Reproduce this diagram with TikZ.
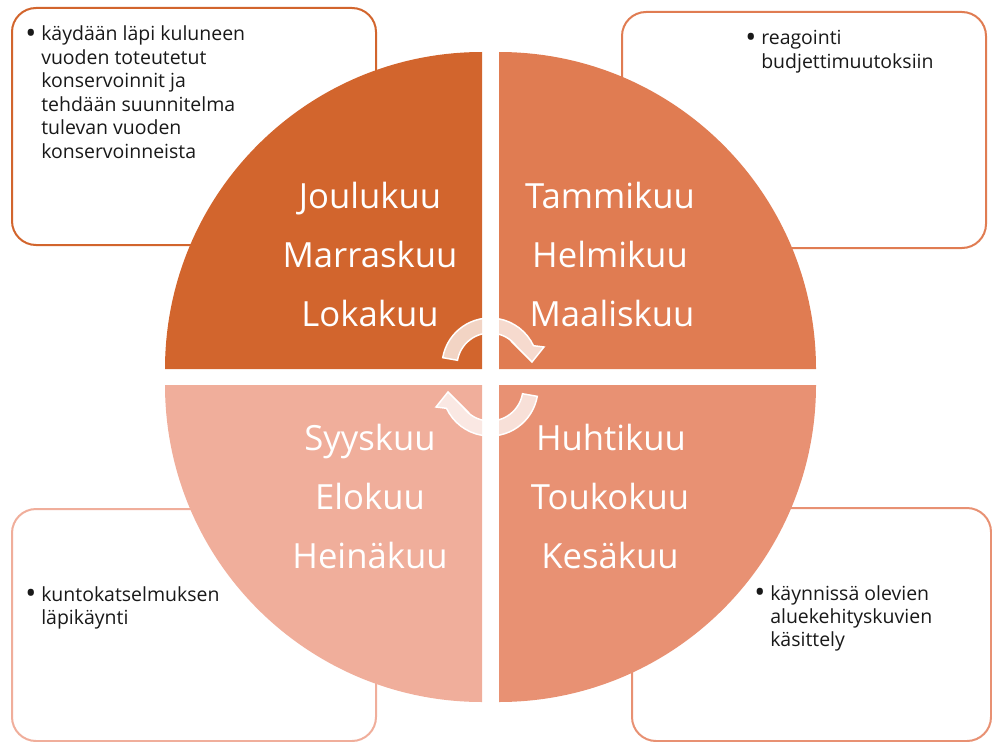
\documentclass[tikz,border=0pt]{standalone}
\usepackage{fontspec}
\setmainfont{Open Sans}
\definecolor{qTL}{RGB}{210,101,45}
\definecolor{qTR}{RGB}{224,124,82}
\definecolor{qBR}{RGB}{232,145,115}
\definecolor{qBL}{RGB}{240,174,155}
\definecolor{txt}{RGB}{25,25,25}
\tikzset{
  infobox/.style={draw=#1, fill=white, line width=1.5pt, rounded corners=18pt, inner sep=0pt},
  month/.style={text=white, font=\fontsize{26}{30}\selectfont, anchor=base, inner sep=0pt},
  boxtext/.style={text=txt, font=\fontsize{14.6}{17.6}\selectfont, anchor=base west, inner sep=0pt},
  bullet/.style={text=txt, font=\fontsize{22}{22}\selectfont, inner sep=0pt},
  cyclearrow/.style={fill=white, fill opacity=0.72, draw=white, line width=1.1pt, line join=miter},
}
\begin{document}
\begin{tikzpicture}[x=0.75pt,y=-0.75pt]
\useasboundingbox (0,0) rectangle (992,742);
% info boxes (behind the circle)
\node[infobox=qTL, minimum width=364*0.75pt, minimum height=237*0.75pt] (boxTL) at (194,126.5) {};
\node[infobox=qTR, minimum width=364*0.75pt, minimum height=236*0.75pt] (boxTR) at (804,130) {};
\node[infobox=qBL, minimum width=364*0.75pt, minimum height=232*0.75pt] (boxBL) at (194,625) {};
\node[infobox=qBR, minimum width=359*0.75pt, minimum height=233*0.75pt] (boxBR) at (811.5,624.5) {};
% quadrants
\fill[qTL] (482,369) -- (165,369) arc[start angle=180, end angle=270, radius=317] -- cycle;
\fill[qTR] (499,369) -- (499,52) arc[start angle=270, end angle=360, radius=317] -- cycle;
\fill[qBR] (499,385) -- (816,385) arc[start angle=0, end angle=90, radius=317] -- cycle;
\fill[qBL] (482,385) -- (482,702) arc[start angle=90, end angle=180, radius=317] -- cycle;
% months
\node[month] (m12) at (370,208) {Joulukuu};
\node[month] (m11) at (370,267) {Marraskuu};
\node[month] (m10) at (370,326) {Lokakuu};
\node[month] (m1) at (610,208) {Tammikuu};
\node[month] (m2) at (610,267) {Helmikuu};
\node[month] (m3) at (612,326) {Maaliskuu};
\node[month] (m9) at (370,450) {Syyskuu};
\node[month] (m8) at (370,509) {Elokuu};
\node[month] (m7) at (370,568) {Heinäkuu};
\node[month] (m4) at (611,450) {Huhtikuu};
\node[month] (m5) at (610,509) {Toukokuu};
\node[month] (m6) at (610,568) {Kesäkuu};
% cycle arrows
\begin{scope}[shift={(490,377)}, yscale=-1]
  \begin{scope}[shift={(0,11)}]
    \path[cyclearrow] (170:48) arc[start angle=170, end angle=25, radius=48]
      -- (54,19) -- (42,4) -- (21,25) -- (38:33)
      arc[start angle=38, end angle=170, radius=33] -- cycle;
  \end{scope}
  \begin{scope}[rotate=180, shift={(0,11)}]
    \path[cyclearrow] (170:48) arc[start angle=170, end angle=25, radius=48]
      -- (54,19) -- (42,4) -- (21,25) -- (38:33)
      arc[start angle=38, end angle=170, radius=33] -- cycle;
  \end{scope}
\end{scope}
% box texts
\node[bullet] (bTL) at (31,36) {•};
\node[boxtext] (tTL) at (41,41) {\vtop{\hbox{käydään läpi kuluneen}\hbox{vuoden toteutetut}\hbox{konservoinnit ja}\hbox{tehdään suunnitelma}\hbox{tulevan vuoden}\hbox{konservoinneista}}};
\node[bullet] (bTR) at (751,40) {•};
\node[boxtext] (tTR) at (761,45) {\vtop{\hbox{reagointi}\hbox{budjettimuutoksiin}}};
\node[bullet] (bBL) at (31,596) {•};
\node[boxtext] (tBL) at (41,601) {\vtop{\hbox{kuntokatselmuksen}\hbox{läpikäynti}}};
\node[bullet] (bBR) at (760,595) {•};
\node[boxtext] (tBR) at (770,600) {\vtop{\hbox{käynnissä olevien}\hbox{aluekehityskuvien}\hbox{käsittely}}};
\end{tikzpicture}
\end{document}
